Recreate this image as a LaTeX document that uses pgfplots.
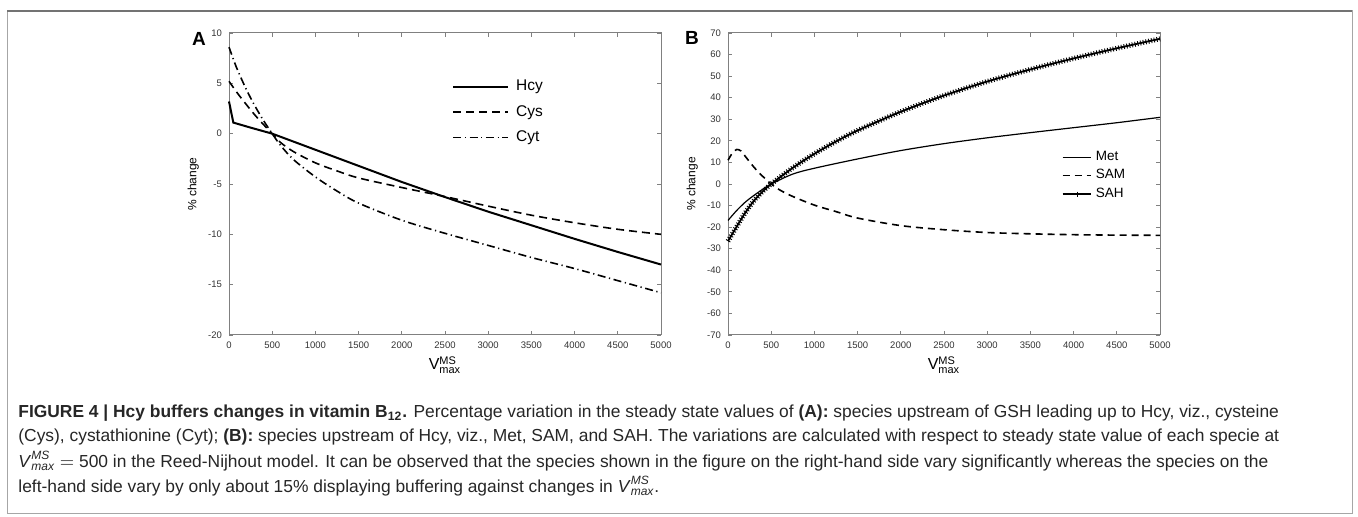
\documentclass[border=0pt]{standalone}
\usepackage{fontspec}
\setmainfont{Liberation Sans}
\usepackage{pgfplots}
\pgfplotsset{compat=1.18}

\pgfplotsset{
  panel/.style={
    scale only axis, width=216pt, height=151pt,
    xmin=0, xmax=5000, xtick={0,500,...,5000},
    xtick pos=both, ytick pos=both,
    tick align=inside, major tick length=2pt,
    axis line style={black!50, line width=0.5pt},
    every tick/.style={black!50, line width=0.4pt},
    tick label style={font=\fontsize{4.75pt}{5pt}\selectfont, text=black!80},
    /pgf/number format/assume math mode=true,
    /pgf/number format/1000 sep={},
    scaled ticks=false,
    clip=false,
    ylabel={\% change},
    ylabel style={font=\fontsize{6pt}{7pt}\selectfont, at={(axis description cs:-0.083,0.5)}, anchor=center},
    xlabel={V$^{\mbox{\fontsize{5.5pt}{6pt}\selectfont MS}}_{\mbox{\fontsize{5.5pt}{6pt}\selectfont max}}$},
    xlabel style={font=\fontsize{8pt}{9pt}\selectfont, at={(axis description cs:0.5,-0.1)}, anchor=center},
    legend cell align=left,
  }
}

\begin{document}
\begin{tikzpicture}
\path[use as bounding box] (0pt,0pt) rectangle (679pt,-258.5pt);
\draw[black!35, line width=0.5pt] (3.5pt,-5.5pt) rectangle (676pt,-256.5pt);
\draw[black!55, line width=0.8pt] (3.5pt,-5.5pt) -- (676pt,-5.5pt);

\node[font=\bfseries\fontsize{9.5pt}{10pt}\selectfont] at (99.5pt,-19.25pt) {A};
\node[font=\bfseries\fontsize{9.5pt}{10pt}\selectfont] at (346pt,-19pt) {B};

% Panel A
\begin{axis}[panel, at={(114.5pt,-167.5pt)}, anchor=south west,
  ymin=-20, ymax=10, ytick={-20,-15,...,10},
  legend style={draw=none, fill=none, at={(axis description cs:0.5166,0.8437)}, anchor=north west,
    inner sep=0pt, outer sep=0pt, row sep=5.68pt, column sep=3.5pt,
    font=\fontsize{7.75pt}{8pt}\selectfont, nodes={inner sep=0pt, text depth=0.15em}},
  legend image code/.code={\draw[#1] (0pt,0pt) -- (27.5pt,0pt);},
]
\addplot[black, line width=1pt] coordinates {
(0,3.2) (50,1.1) (250,0.6) (500,0) (750,-0.8) (1000,-1.6) (1500,-3.2) (2000,-4.8)
(2500,-6.3) (3000,-7.75) (3500,-9.1) (4000,-10.45) (4500,-11.75) (5000,-13.0)};
\addlegendentry{Hcy}
\addplot[black, line width=0.8pt, dash pattern=on 4pt off 2.5pt, smooth] coordinates {
(0,5.2) (100,4.0) (200,2.9) (300,1.85) (400,0.9) (500,0) (600,-0.9) (750,-1.8) (1000,-2.9)
(1250,-3.7) (1500,-4.4) (2000,-5.35) (2500,-6.25) (3000,-7.2) (3500,-8.1) (4000,-8.85)
(4500,-9.5) (5000,-10.0)};
\addlegendentry{Cys}
\addplot[black, line width=0.8pt, dash pattern=on 4pt off 1.8pt on 0.6pt off 1.8pt, smooth] coordinates {
(0,8.6) (50,7.4) (100,6.3) (200,4.4) (300,2.75) (400,1.3) (500,0) (600,-1.2) (750,-2.6)
(1000,-4.3) (1250,-5.7) (1500,-6.9) (2000,-8.6) (2500,-9.9) (3000,-11.1) (3500,-12.3)
(4000,-13.4) (4500,-14.6) (5000,-15.8)};
\addlegendentry{Cyt}
\end{axis}

% Panel B
\begin{axis}[panel, at={(364pt,-167.5pt)}, anchor=south west,
  ymin=-70, ymax=70, ytick={-70,-60,...,70},
  legend style={draw=none, fill=none, at={(axis description cs:0.7727,0.609)}, anchor=north west,
    inner sep=0pt, outer sep=0pt, row sep=3.06pt, column sep=1.8pt,
    font=\fontsize{6.75pt}{7pt}\selectfont, nodes={inner sep=0pt, text depth=0.15em}},
  legend image code/.code={\draw[#1] (0pt,0pt) -- (14.3pt,0pt);},
]
\addplot[black, line width=0.6pt, smooth] coordinates {
(0,-16.9) (100,-12.3) (200,-8.4) (300,-5.3) (400,-2.5) (500,0) (750,4.6) (1000,7.3)
(1500,11.6) (2000,15.5) (2500,18.7) (3000,21.4) (3500,23.8) (4000,26.1) (4500,28.4) (5000,30.9)};
\addlegendentry{Met}
\addplot[black, line width=0.8pt, dash pattern=on 3.5pt off 2.5pt, smooth] coordinates {
(0,11) (50,14.3) (100,16.0) (150,15.3) (200,12.8) (300,7.8) (400,3.6) (500,0) (600,-2.8)
(750,-5.8) (1000,-9.8) (1250,-12.8) (1500,-15.8) (2000,-19.3) (2500,-21.2) (3000,-22.5)
(3500,-23.1) (4000,-23.5) (4500,-23.7) (5000,-23.8)};
\addlegendentry{SAM}
\pgfplotstableread{
x y
0 -26.5
100 -19.8
200 -13.3
300 -7.8
400 -3.5
500 0
750 7.5
1000 14
1250 19.7
1500 24.8
2000 33.5
2500 41
3000 47.5
3500 53.1
4000 58.2
4500 62.9
5000 67.3
}\sahtable
\addplot[forget plot, black, line width=2.5pt, dash pattern=on 0.45pt off 0.95pt, smooth] table[x=x,y=y] {\sahtable};
\addplot[black, line width=0.9pt, smooth,
  legend image code/.code={\draw[black, line width=0.9pt, mark=+, mark size=1.3pt, mark repeat=2, mark phase=2,
     mark options={line width=0.5pt}] plot coordinates {(0pt,0pt) (7.15pt,0pt) (14.3pt,0pt)};}
] table[x=x,y=y] {\sahtable};
\addlegendentry{SAH}
\end{axis}

% Caption
\begin{scope}[every node/.style={anchor=base west, inner sep=0pt, font=\fontsize{8.7pt}{10pt}\selectfont, text=black!85}]
\node at (9pt,-209pt) {\textbf{FIGURE 4 | Hcy buffers changes in vitamin B\textsubscript{12}.} Percentage variation in the steady state values of \textbf{(A):} species upstream of GSH leading up to Hcy, viz., cysteine};
\node at (9pt,-221pt) {(Cys), cystathionine (Cyt); \textbf{(B):} species upstream of Hcy, viz., Met, SAM, and SAH. The variations are calculated with respect to steady state value of each specie at};
\node at (9pt,-233.5pt) {\textit{V}$^{\mbox{\itshape\fontsize{6pt}{6pt}\selectfont MS}}_{\mbox{\itshape\fontsize{6pt}{6pt}\selectfont max}}$ $=$ 500 in the Reed-Nijhout model. It can be observed that the species shown in the figure on the right-hand side vary significantly whereas the species on the};
\node at (9pt,-246pt) {left-hand side vary by only about 15\% displaying buffering against changes in \textit{V}$^{\mbox{\itshape\fontsize{6pt}{6pt}\selectfont MS}}_{\mbox{\itshape\fontsize{6pt}{6pt}\selectfont max}}$.};
\end{scope}
\end{tikzpicture}
\end{document}
